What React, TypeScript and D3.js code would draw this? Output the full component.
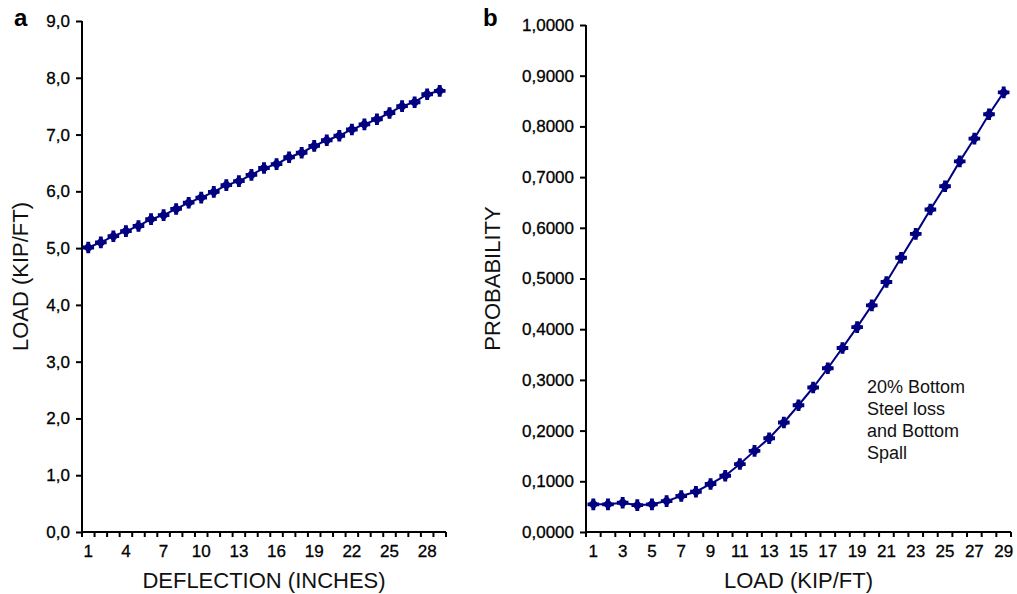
import React, { useRef, useEffect } from "react";
import * as d3 from "d3";

// categories (1..29) shared by both panels
const categories = d3.range(1, 30);

// panel a: load vs deflection
const loadValues = [
  5.01, 5.1, 5.21, 5.3, 5.39, 5.51, 5.58, 5.69, 5.8, 5.89, 5.99, 6.11, 6.18, 6.29, 6.41,
  6.48, 6.6, 6.68, 6.8, 6.9, 6.98, 7.09, 7.18, 7.27, 7.38, 7.5, 7.57, 7.71, 7.77,
];

// panel b: probability vs load
const probValues = [
  0.0546, 0.0546, 0.0578, 0.053, 0.0546, 0.061, 0.071, 0.0795, 0.0947, 0.111, 0.134, 0.16,
  0.185, 0.216, 0.25, 0.285, 0.323, 0.363, 0.404, 0.447, 0.493, 0.541, 0.588, 0.636, 0.682,
  0.731, 0.776, 0.824, 0.867,
];

const leftTicks = d3.range(0, 10, 1);
const rightTicks = d3.range(0, 11, 1).map((d) => d / 10);
const annotation = ["20% Bottom", "Steel loss", "and Bottom", "Spall"];

const FONT = "'Liberation Sans', Arial, sans-serif";
const NAVY = "#000080";

export default function App() {
  const ref = useRef<SVGSVGElement>(null);

  useEffect(() => {
    const svg = d3.select(ref.current);
    svg.selectAll("*").remove();

    const panel = (opts: any) => {
      const { x0, x1, y0, y1, values, yMax, yTicks, fmt, labelEvery, xTitle, yTitle, yTitleX, tag, tagX } = opts;
      const x = d3.scaleBand<number>().domain(categories).range([x0, x1]);
      const y = d3.scaleLinear().domain([0, yMax]).range([y0, y1]);
      const g = svg.append("g").attr("font-family", FONT);

      // y axis
      const ya = g
        .append("g")
        .attr("transform", `translate(${x0},0)`)
        .call(d3.axisLeft(y).tickValues(yTicks).tickFormat(fmt).tickSize(6).tickPadding(6));
      ya.select(".domain").attr("stroke", "#000").attr("stroke-width", 2).attr("d", `M0,${y1}V${y0}`);
      ya.selectAll(".tick line").attr("stroke", "#000").attr("stroke-width", 2);
      ya.selectAll(".tick text")
        .attr("font-size", 17)
        .attr("fill", "#000")
        .attr("stroke", "#000")
        .attr("stroke-width", 0.3)
        .attr("font-family", FONT);

      // x axis (ticks between categories)
      const xa = g.append("g").attr("transform", `translate(0,${y0})`);
      xa.append("line").attr("x1", x0).attr("x2", x1).attr("stroke", "#000").attr("stroke-width", 2);
      xa.selectAll("line.tk")
        .data(d3.range(categories.length + 1))
        .join("line")
        .attr("class", "tk")
        .attr("x1", (i) => x0 + i * x.step())
        .attr("x2", (i) => x0 + i * x.step())
        .attr("y1", 0)
        .attr("y2", 5)
        .attr("stroke", "#000")
        .attr("stroke-width", 2);
      xa.selectAll("text")
        .data(categories.filter((_, i) => i % labelEvery === 0))
        .join("text")
        .attr("x", (d) => (x(d) as number) + x.bandwidth() / 2)
        .attr("y", 25)
        .attr("text-anchor", "middle")
        .attr("font-size", 17)
        .attr("fill", "#000")
        .attr("stroke", "#000")
        .attr("stroke-width", 0.3)
        .text((d) => d);

      // line + markers
      const pts = categories.map((c, i) => [(x(c) as number) + x.bandwidth() / 2, y(values[i])] as [number, number]);
      g.append("path")
        .attr("d", d3.line()(pts))
        .attr("fill", "none")
        .attr("stroke", NAVY)
        .attr("stroke-width", 2);
      const m = g.append("g").selectAll("g").data(pts).join("g").attr("transform", (p) => `translate(${p[0]},${p[1]})`);
      m.append("path").attr("d", d3.symbol(d3.symbolSquare, 60)()).attr("transform", "rotate(45)").attr("fill", NAVY);
      m.append("path").attr("d", d3.symbol(d3.symbolCross, 75)()).attr("fill", NAVY);

      // titles
      g.append("text")
        .attr("x", (x0 + x1) / 2)
        .attr("y", 588)
        .attr("text-anchor", "middle")
        .attr("font-size", 22)
        .attr("fill", "#111")
        .text(xTitle);
      g.append("text")
        .attr("transform", `translate(${yTitleX},${(y0 + y1) / 2}) rotate(-90)`)
        .attr("text-anchor", "middle")
        .attr("font-size", 22)
        .attr("fill", "#111")
        .text(yTitle);
      g.append("text")
        .attr("x", tagX)
        .attr("y", 26)
        .attr("font-size", 24)
        .attr("font-weight", "bold")
        .text(tag);
      return { x, y, g };
    };

    panel({
      x0: 82, x1: 446, y0: 532, y1: 21, values: loadValues, yMax: 9, yTicks: leftTicks,
      fmt: (d: number) => d.toFixed(1).replace(".", ","), labelEvery: 3,
      xTitle: "DEFLECTION (INCHES)", yTitle: "LOAD (KIP/FT)", yTitleX: 28, tag: "a", tagX: 14,
    });

    const b = panel({
      x0: 586, x1: 1011, y0: 532, y1: 25, values: probValues, yMax: 1, yTicks: rightTicks,
      fmt: (d: number) => d.toFixed(4).replace(".", ","), labelEvery: 2,
      xTitle: "LOAD (KIP/FT)", yTitle: "PROBABILITY", yTitleX: 500, tag: "b", tagX: 483,
    });

    b.g.append("text")
      .attr("font-size", 18)
      .attr("fill", "#111")
      .selectAll("tspan")
      .data(annotation)
      .join("tspan")
      .attr("x", 867)
      .attr("y", (_, i) => 393 + i * 22)
      .text((d) => d);
  }, []);

  return (
    <div style={{ position: "absolute", left: 0, top: 0 }}>
      <svg ref={ref} width={1017} height={594} style={{ display: "block", background: "#fff" }} />
    </div>
  );
}
